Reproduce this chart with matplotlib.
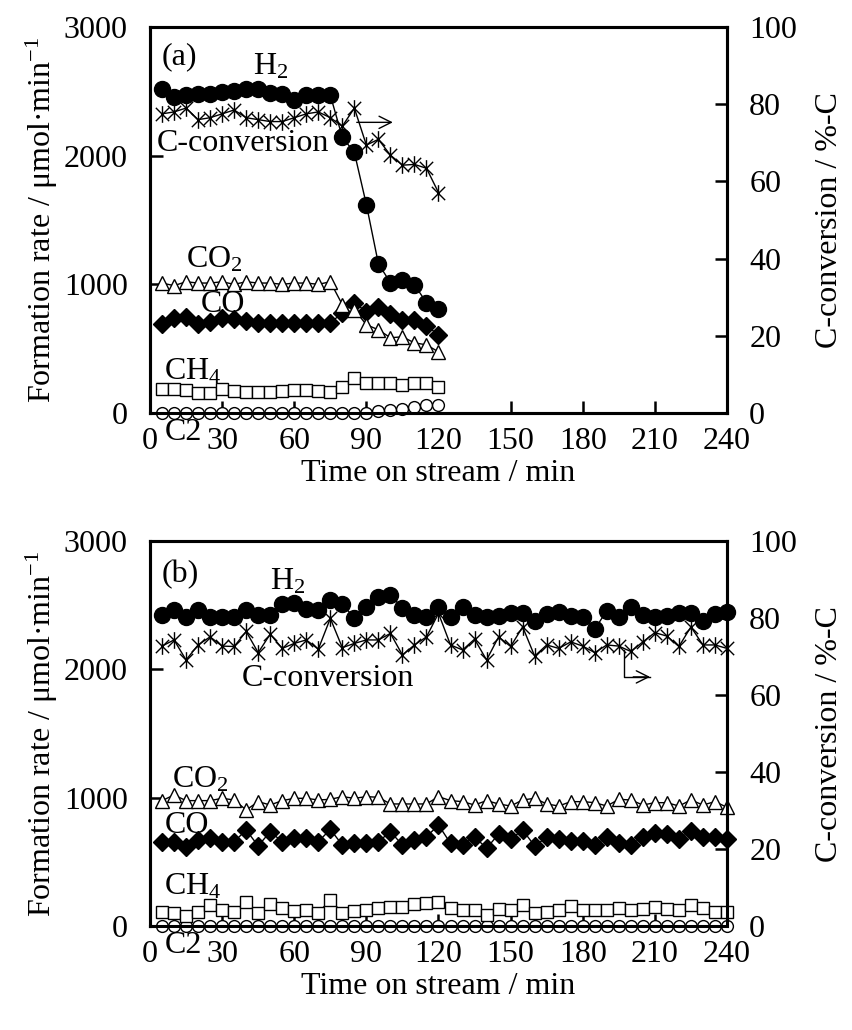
import matplotlib
matplotlib.use("Agg")
import matplotlib.pyplot as plt
from matplotlib.path import Path
import numpy as np

plt.rcParams['font.family'] = ['Liberation Serif', 'DejaVu Serif']
plt.rcParams['mathtext.fontset'] = 'custom'
plt.rcParams['mathtext.rm'] = 'Liberation Serif'
plt.rcParams['mathtext.it'] = 'Liberation Serif:italic'
plt.rcParams['mathtext.bf'] = 'Liberation Serif:bold'

# ---------------- data ----------------
time_a = [5, 10, 15, 20, 25, 30, 35, 40, 45, 50, 55, 60, 65, 70, 75,
          80, 85, 90, 95, 100, 105, 110, 115, 120]
h2_a = [2515, 2455, 2470, 2480, 2480, 2495, 2500, 2515, 2515, 2490, 2480, 2430,
        2470, 2470, 2470, 2143, 2025, 1620, 1160, 1013, 1036, 997, 857, 810]
conv_a = [77.5, 78.0, 79.0, 76.0, 76.5, 77.5, 78.5, 76.5, 76.0, 75.5, 75.5, 76.5,
          77.5, 78.0, 76.5, 74.3, 79.0, 69.4, 70.9, 66.8, 64.2, 64.4, 63.4, 57.1]
co2_a = [1010, 990, 1020, 1010, 1010, 1020, 1000, 1020, 1010, 1010, 1000, 1010,
         1010, 1000, 1020, 842, 803, 686, 647, 585, 592, 545, 530, 475]
co_a = [690, 735, 745, 690, 710, 735, 730, 715, 700, 700, 700, 700,
        700, 700, 700, 779, 857, 787, 826, 771, 725, 725, 678, 608]
ch4_a = [187, 185, 180, 156, 158, 185, 170, 160, 160, 165, 172, 178,
         180, 170, 160, 203, 273, 234, 234, 234, 218, 234, 234, 203]
c2_a = [0, 0, 0, 0, 0, 0, 0, 0, 0, 0, 0, 0,
        0, 0, 0, 0, 0, 0, 16, 20, 30, 47, 60, 60]

time_b = [5, 10, 15, 20, 25, 30, 35, 40, 45, 50, 55, 60, 65, 70, 75, 80,
          85, 90, 95, 100, 105, 110, 115, 120, 125, 130, 135, 140, 145, 150,
          155, 160, 165, 170, 175, 180, 185, 190, 195, 200, 205, 210, 215,
          220, 225, 230, 235, 240]
h2_b = [2424, 2463, 2411, 2463, 2406, 2406, 2406, 2463, 2424, 2424, 2510, 2515,
        2468, 2463, 2541, 2510, 2398, 2489, 2567, 2580, 2476, 2424, 2406, 2489,
        2411, 2484, 2424, 2406, 2416, 2437, 2437, 2380, 2432, 2450, 2416, 2406,
        2312, 2458, 2411, 2484, 2424, 2406, 2416, 2437, 2437, 2380, 2432, 2450]
conv_b = [72.7, 74.3, 69.1, 73.0, 75.1, 72.7, 72.6, 76.5, 71.0, 75.8, 72.1, 73.4,
          74.3, 71.9, 79.9, 72.3, 73.4, 74.3, 74.3, 76.0, 70.4, 73.0, 75.1, 81.2,
          73.0, 71.7, 74.5, 69.1, 75.1, 72.6, 77.7, 70.1, 73.0, 72.1, 73.8, 72.7,
          71.0, 73.0, 72.7, 71.3, 73.8, 76.2, 75.3, 72.6, 77.7, 73.0, 73.0, 72.1]
co2_b = [977, 1021, 977, 977, 977, 995, 982, 904, 969, 943, 977, 995,
         995, 982, 987, 1008, 995, 1008, 1003, 951, 951, 951, 951, 1008,
         977, 969, 943, 977, 951, 935, 982, 995, 951, 935, 969, 969,
         961, 935, 987, 982, 943, 961, 961, 935, 982, 943, 969, 925]
co_b = [657, 657, 618, 670, 683, 657, 657, 748, 624, 735, 657, 683,
        683, 657, 753, 631, 644, 644, 657, 735, 631, 670, 696, 787,
        644, 631, 696, 605, 717, 676, 748, 624, 691, 676, 665, 665,
        631, 691, 644, 631, 696, 727, 717, 676, 743, 691, 691, 676]
ch4_b = [112, 104, 78, 112, 164, 125, 112, 190, 104, 171, 138, 120,
         125, 104, 203, 104, 120, 125, 138, 151, 151, 171, 177, 190,
         138, 125, 125, 86, 130, 125, 164, 99, 112, 125, 156, 125,
         125, 125, 138, 125, 130, 146, 130, 125, 164, 138, 112, 112]
c2_b = [0] * 48

xticks = [0, 30, 60, 90, 120, 150, 180, 210, 240]
yticks_left = [0, 1000, 2000, 3000]
yticks_right = [0, 20, 40, 60, 80, 100]

# star marker: X with vertical bar
star = Path([(-1, -1), (1, 1), (-1, 1), (1, -1), (0, -1.25), (0, 1.25)],
            [Path.MOVETO, Path.LINETO, Path.MOVETO, Path.LINETO,
             Path.MOVETO, Path.LINETO])

FS = 23
fig = plt.figure(figsize=(8.53, 10.30), dpi=100)

W, H = 853.0, 1030.0
def axrect(left, top, right, bottom):
    return [left / W, 1 - bottom / H, (right - left) / W, (bottom - top) / H]

panels = [
    dict(rect=axrect(150, 27, 727, 413), t=time_a, h2=h2_a, conv=conv_a,
         co2=co2_a, co=co_a, ch4=ch4_a, c2=c2_a, tag='(a)', tagy=0.922),
    dict(rect=axrect(150, 541, 727, 926), t=time_b, h2=h2_b, conv=conv_b,
         co2=co2_b, co=co_b, ch4=ch4_b, c2=c2_b, tag='(b)', tagy=0.914),
]

for i, p in enumerate(panels):
    ax = fig.add_axes(p['rect'])
    ax2 = ax.twinx()
    t = p['t']
    lk = dict(color='black', lw=1.0, clip_on=False)
    ax.plot(t, p['c2'], marker='o', ms=8.5, mfc='white', mec='black', mew=1.0, zorder=3, **lk)
    ax.plot(t, p['ch4'], marker='s', ms=8.5, mfc='white', mec='black', mew=1.0, zorder=3, **lk)
    ax.plot(t, p['co'], marker='D', ms=9.5, mfc='black', mec='black', zorder=3, **lk)
    ax.plot(t, p['co2'], marker='^', ms=9.5, mfc='white', mec='black', mew=1.0, zorder=3, **lk)
    ax.plot(t, p['h2'], marker='o', ms=11.5, mfc='black', mec='black', zorder=4, **lk)
    ax2.plot(t, p['conv'], marker=star, ms=12, mfc='none', mec='black', mew=1.0, zorder=4, **lk)

    ax.set_xlim(0, 240)
    ax.set_ylim(0, 3000)
    ax2.set_ylim(0, 100)
    ax.set_xticks(xticks)
    ax.set_yticks(yticks_left)
    ax2.set_yticks(yticks_right)
    for a in (ax, ax2):
        for s in a.spines.values():
            s.set_linewidth(2.2)
        a.tick_params(direction='in', length=9, width=1.8, labelsize=FS)
    ax.tick_params(axis='x', pad=10)
    ax.tick_params(axis='y', pad=16)
    ax2.tick_params(axis='y', pad=16)
    ax.set_xlabel('Time on stream / min', fontsize=FS, labelpad=2)
    ax.set_ylabel('Formation rate / μmol·min$^{-1}$', fontsize=FS, labelpad=3)
    ax2.set_ylabel('C-conversion / %-C', fontsize=FS, labelpad=13)

    ax.text(0.02, p['tagy'], p['tag'], transform=ax.transAxes, fontsize=FS,
            ha='left', va='center')

    if i == 0:
        ax.text(43, 2690, 'H$_2$', fontsize=FS, ha='left', va='center')
        ax.text(3, 2097, 'C-conversion', fontsize=FS, ha='left', va='center')
        ax.text(15, 1190, 'CO$_2$', fontsize=FS, ha='left', va='center')
        ax.text(21, 842, 'CO', fontsize=FS, ha='left', va='center')
        ax.text(6, 320, 'CH$_4$', fontsize=FS, ha='left', va='center')
        ax.text(6, -150, 'C2', fontsize=FS, ha='left', va='center')
        ax2.annotate('', xy=(101, 75.3), xytext=(86, 75.3),
                     arrowprops=dict(arrowstyle='->', color='black', lw=1.0,
                                     mutation_scale=22, shrinkA=0, shrinkB=0))
    else:
        ax.text(50, 2681, 'H$_2$', fontsize=FS, ha='left', va='center')
        ax.text(38, 1925, 'C-conversion', fontsize=FS, ha='left', va='center')
        ax.text(9, 1140, 'CO$_2$', fontsize=FS, ha='left', va='center')
        ax.text(6, 787, 'CO', fontsize=FS, ha='left', va='center')
        ax.text(6, 305, 'CH$_4$', fontsize=FS, ha='left', va='center')
        ax.text(6, -150, 'C2', fontsize=FS, ha='left', va='center')
        ax2.plot([197, 197, 208], [71.7, 64.7, 64.7], color='black', lw=1.0)
        ax2.annotate('', xy=(208, 64.7), xytext=(201, 64.7),
                     arrowprops=dict(arrowstyle='->', color='black', lw=1.0,
                                     mutation_scale=22, shrinkA=0, shrinkB=0))

fig.savefig('out.png', dpi=100)
